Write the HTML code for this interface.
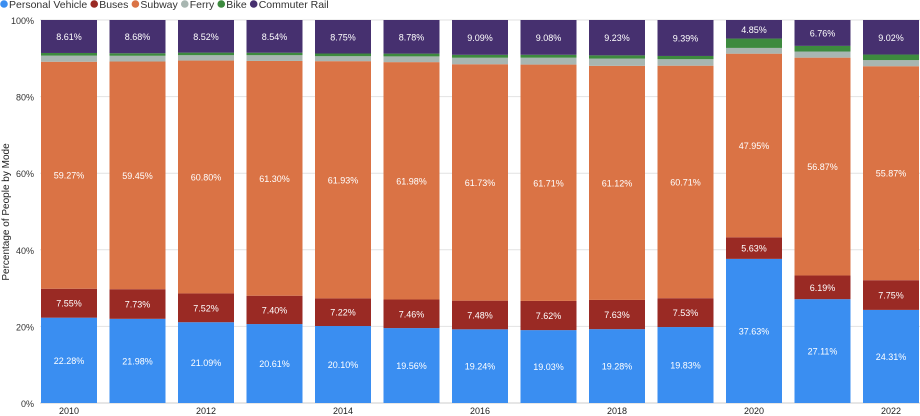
<!DOCTYPE html>
<html><head><meta charset="utf-8"><style>
body{margin:0;background:#fff;font-family:"Liberation Sans","DejaVu Sans",sans-serif}
svg{display:block}
</style></head><body>
<svg id="chart" width="920" height="416">
<g id="legend"></g>
<g id="grid"></g>
<g id="bars"></g>
<g id="axes"></g>
<text transform="translate(9,212) rotate(-90)" text-anchor="middle" font-size="10" fill="#222">Percentage of People by Mode</text>
</svg>
<script>
const years=["2010","2011","2012","2013","2014","2015","2016","2017","2018","2019","2020","2021","2022"];
const personalVehicle=[22.28,21.98,21.09,20.61,20.10,19.56,19.24,19.03,19.28,19.83,37.63,27.11,24.31];
const buses=[7.55,7.73,7.52,7.40,7.22,7.46,7.48,7.62,7.63,7.53,5.63,6.19,7.75];
const subway=[59.27,59.45,60.80,61.30,61.93,61.98,61.73,61.71,61.12,60.71,47.95,56.87,55.87];
const ferry=[1.6,1.5,1.4,1.5,1.3,1.5,1.7,1.8,1.9,1.7,1.5,1.6,1.6];
const bike=[0.69,0.66,0.67,0.65,0.70,0.72,0.76,0.76,0.84,0.84,2.44,1.47,1.45];
const commuterRail=[8.61,8.68,8.52,8.54,8.75,8.78,9.09,9.08,9.23,9.39,4.85,6.76,9.02];
const yTicks=[0,20,40,60,80,100];
const seriesNames=["Personal Vehicle","Buses","Subway","Ferry","Bike","Commuter Rail"];
const seriesData=[personalVehicle,buses,subway,ferry,bike,commuterRail];
const colors=["#3a8ef1","#9a2a24","#da7345","#a8b6b1","#3d8a3e","#46306f"];
const labeled=[true,true,true,false,false,true];
const NS="http://www.w3.org/2000/svg";
const y0=403,y1=20,left=40,right=920;
function y(v){return y0-(v/100)*(y0-y1);}
const band=68.5;
function xc(i){return 69+i*band;}
const bw=56;
function mk(tag,attrs,parent,text){const e=document.createElementNS(NS,tag);for(const k in attrs)e.setAttribute(k,attrs[k]);if(text!==undefined)e.textContent=text;parent.appendChild(e);return e;}
const grid=document.getElementById('grid'),axes=document.getElementById('axes'),bars=document.getElementById('bars'),legend=document.getElementById('legend');
yTicks.forEach(t=>{
 const l=mk('line',{x1:left,x2:right,y1:y(t),y2:y(t),stroke:t===0?'#ccc':'#e2e2e2','stroke-width':1},grid);
 
 
 const tx=mk('text',{x:34,y:y(t)+4,'text-anchor':'end','font-size':9,fill:'#333'},axes,t+'%');
 
 
});
years.forEach((yr,i)=>{
 if(i%2===0){const tx=mk('text',{x:xc(i),y:414,'text-anchor':'middle','font-size':9,fill:'#222'},axes,yr);
 
 }
 let acc=0;
 seriesData.forEach((s,k)=>{
  const v=s[i];const top=y(acc+v),bot=y(acc);
  const r=mk('rect',{x:xc(i)-bw/2,y:top,width:bw,height:bot-top,fill:colors[k]},bars);
  
  
  if(labeled[k]){const t=mk('text',{x:xc(i),y:(top+bot)/2+3.5,'text-anchor':'middle','font-size':9,fill:'#fff'},bars,v.toFixed(2)+'%');
   
   }
  acc+=v;
 });
});
let lx=4;
seriesNames.forEach((n,k)=>{
 const g=mk('g',{},legend);
 
 
 mk('circle',{cx:lx,cy:4,r:3.8,fill:colors[k]},g);
 const t=mk('text',{x:lx+5,y:8,'font-size':10.5,fill:'#333'},g,n);
 lx+=5+t.getComputedTextLength()+7;
});
</script>
</body></html>
